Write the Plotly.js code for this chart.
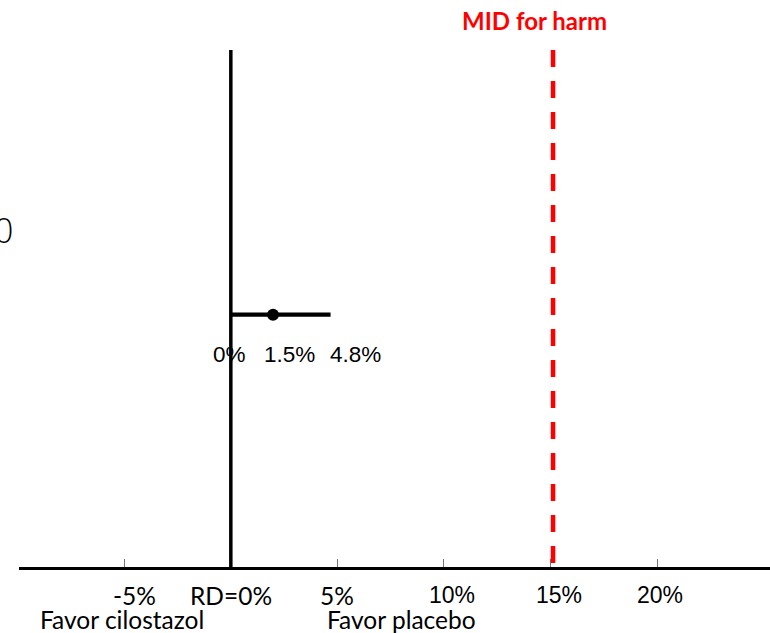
<!DOCTYPE html>
<html>
<head>
<meta charset="utf-8">
<script src="https://cdn.plot.ly/plotly-3.0.1.min.js"></script>
<style>html,body{margin:0;padding:0;background:#fff;}#chart{width:770px;height:633px;}</style>
</head>
<body>
<div id="chart"></div>
<script>
// ---- data ----
const studyRow = ["cilostazol vs placebo"];
const pointEstimate = [1.98];
const lowerBound = [0];
const upperBound = [4.68];
const ciLabels = ["0%", "1.5%", "4.8%"];
const nullLine = 0;
const midHarm = 15.12;
const midLabel = "MID for harm";
const tickVals = [-5, 0, 5, 10, 15, 20];
const tickLabels = ["-5%", "RD=0%", "5%", "10%", "15%", "20%"];
const favorLeft = "Favor cilostazol";
const favorRight = "Favor placebo";
const yTickLabel = "0";

// ---- styles ----
const calib = "Lato, 'Open Sans', sans-serif";
const arial = "'Liberation Sans', Arial, sans-serif";
const tickFonts = [calib, calib, calib, arial, arial, arial];
const tickShift = [10, 0, 0, 8, 8, 3];
const rowY = 0;

const traces = [
  {
    x: [lowerBound[0], upperBound[0]],
    y: [rowY, rowY],
    mode: "lines",
    line: {color: "#000", width: 4.3},
    hoverinfo: "skip",
    showlegend: false
  },
  {
    x: pointEstimate,
    y: [rowY],
    text: studyRow,
    mode: "markers",
    marker: {color: "#000", size: 12},
    showlegend: false
  }
];

const annotations = [];
tickVals.forEach((v, i) => {
  annotations.push({
    x: v, xref: "x", y: 0, yref: "paper", yanchor: "middle",
    yshift: -28, xshift: tickShift[i], showarrow: false,
    text: tickLabels[i],
    font: {family: tickFonts[i], size: tickFonts[i] === arial ? 23 : 24.5, color: "#000"}
  });
});
// CI labels
const ciVals = [lowerBound[0], pointEstimate[0], upperBound[0]];
const ciShift = [-1.5, 16, 25];
ciLabels.forEach((t, i) => {
  annotations.push({
    x: ciVals[i], xref: "x", y: rowY, yref: "y", yanchor: "middle",
    yshift: -40, xshift: ciShift[i], showarrow: false, text: t,
    font: {family: arial, size: 22.5, color: "#000"}
  });
});
annotations.push({
  x: midHarm, xref: "x", y: 1, yref: "paper", yanchor: "middle",
  yshift: 30, xshift: -19, showarrow: false, text: "<b>" + midLabel + "</b>",
  font: {family: calib, size: 24, color: "#ff0000"}
});
annotations.push({
  x: -5, xref: "x", y: 0, yref: "paper", yanchor: "middle",
  yshift: -52, xshift: -2, showarrow: false, text: favorLeft,
  font: {family: calib, size: 24.5, color: "#000"}
});
annotations.push({
  x: 5, xref: "x", y: 0, yref: "paper", yanchor: "middle",
  yshift: -52, xshift: 64, showarrow: false, text: favorRight,
  font: {family: calib, size: 24.5, color: "#000"}
});
annotations.push({
  x: 0, xref: "paper", y: 0.652, yref: "paper", xanchor: "right", yanchor: "middle",
  xshift: -4, showarrow: false, text: yTickLabel,
  font: {family: "'Open Sans', sans-serif", size: 34, color: "#000", weight: 300}
});

const layout = {
  width: 770, height: 633,
  margin: {l: 19, r: 0, t: 50, b: 66},
  paper_bgcolor: "#fff", plot_bgcolor: "#fff",
  showlegend: false,
  xaxis: {
    range: [-9.94, 25.30],
    tickvals: tickVals.filter(v => v !== nullLine),
    ticks: "inside", ticklen: 8, tickwidth: 1, tickcolor: "#777",
    showticklabels: false, showgrid: false, zeroline: false,
    showline: true, linecolor: "#000", linewidth: 3
  },
  yaxis: {
    range: [-0.488, 0.512],
    showticklabels: false, showgrid: false, zeroline: false, showline: false, ticks: ""
  },
  shapes: [
    {type: "line", xref: "x", yref: "paper", x0: nullLine, x1: nullLine, y0: 0, y1: 1,
     line: {color: "#000", width: 3.5}},
    {type: "line", xref: "x", yref: "paper", x0: midHarm, x1: midHarm, y0: 1, y1: 0,
     line: {color: "#ff0000", width: 4.5, dash: "17px,14px"}}
  ],
  annotations: annotations
};

Plotly.newPlot("chart", traces, layout, {staticPlot: true, displayModeBar: false});
</script>
</body>
</html>
